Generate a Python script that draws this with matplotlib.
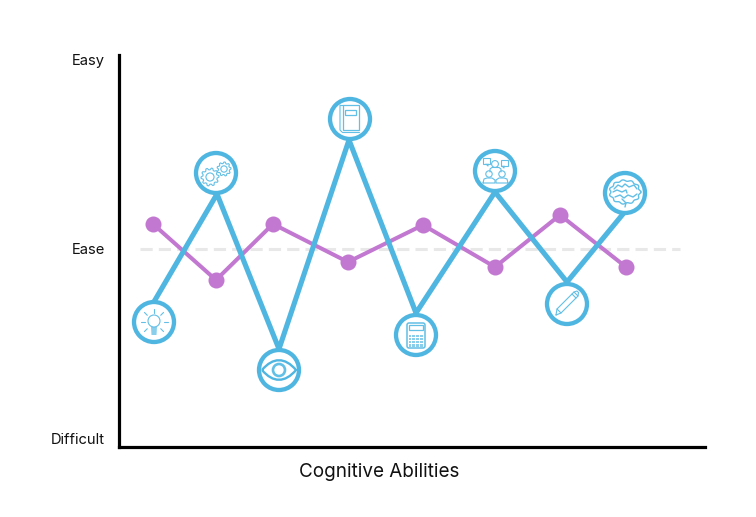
import numpy as np
import matplotlib
matplotlib.use("Agg")
import matplotlib.pyplot as plt
from matplotlib.patches import Circle, Rectangle, FancyBboxPatch, Polygon, PathPatch
from matplotlib.path import Path

plt.rcParams['font.family'] = ['Inter', 'DejaVu Sans']

# values (axis units = pixels from the axes corner)
blue_x = [36, 98, 160, 230, 297, 376, 448, 504]
blue_y = [147, 253, 98, 307, 134, 255, 165, 233]
icon_x = [35, 97, 160, 231, 297, 376, 448, 506]
icon_y = [125, 274, 77, 328, 112, 276, 143, 254]
icons = ['bulb', 'gears', 'eye', 'book', 'calc', 'people', 'pencil', 'brain']
purple_x = [34, 97, 154, 229, 304, 376, 441, 507]
purple_y = [223, 167, 223, 185, 222, 180, 232, 180]
ease_level = 198
ease_span = [21, 561]
y_ticks = [8, 198, 387]
y_labels = ['Difficult', 'Ease', 'Easy']

BLUE = '#4FB6E1'
ICON = '#62BFE6'
PURPLE = '#C277D0'

fig = plt.figure(figsize=(7.56, 5.17), dpi=100)
ax = fig.add_axes([119 / 756, 70 / 517, 586 / 756, 392 / 517])
ax.set_xlim(0, 586)
ax.set_ylim(0, 392)

for s in ['top', 'right']:
    ax.spines[s].set_visible(False)
for s in ['left', 'bottom']:
    ax.spines[s].set_linewidth(2.3)
ax.set_xticks([])
ax.set_yticks(y_ticks)
ax.set_yticklabels(y_labels, fontsize=10.6, color='#111111')
ax.tick_params(axis='y', length=0, pad=10)
ax.set_xlabel("Cognitive Abilities", fontsize=13.6, color='#111111')
ax.xaxis.set_label_coords(260 / 586, -0.063)
ax.xaxis.label.set_verticalalignment('center')

ax.plot(ease_span, [ease_level, ease_level], color='#E8E8E8', lw=2.2,
        dashes=(4, 2), zorder=1)
ax.plot(purple_x, purple_y, color=PURPLE, lw=2.9, zorder=2)
ax.scatter(purple_x, purple_y, s=133, color=PURPLE, linewidths=0, zorder=2)
ax.plot(blue_x, blue_y, color=BLUE, lw=3.7, zorder=3, solid_joinstyle='miter')


def line(cx, cy, xs, ys, lw=0.8):
    ax.plot(np.array(xs) + cx, np.array(ys) + cy, color=ICON, lw=lw, zorder=6,
            solid_capstyle='round')


def ring(cx, cy, r, lw=0.8):
    ax.add_patch(Circle((cx, cy), r, fc='none', ec=ICON, lw=lw, zorder=6))


def box(x, y, w, h, lw=0.8):
    ax.add_patch(Rectangle((x, y), w, h, fc='none', ec=ICON, lw=lw, zorder=6))


def gear(cx, cy, r, teeth):
    ang = np.linspace(0, 2 * np.pi, teeth * 4 + 1)
    rad = np.where(np.arange(len(ang)) % 4 < 2, r, r * 0.8)
    ax.add_patch(Polygon(np.c_[cx + rad * np.cos(ang), cy + rad * np.sin(ang)],
                         fc='none', ec=ICON, lw=0.8, zorder=6))
    ring(cx, cy, r * 0.45)


def draw_icon(kind, cx, cy):
    if kind == 'bulb':
        ring(cx, cy + 1, 6)
        ax.add_patch(Polygon([(cx - 3, cy - 5), (cx + 3, cy - 5), (cx + 2.5, cy - 13), (cx - 2.5, cy - 13)],
                             fc=ICON, ec='none', alpha=0.75, zorder=6))
        for a in [0, 45, 90, 135, 180, 225, 315]:
            c, s = np.cos(np.radians(a)), np.sin(np.radians(a))
            line(cx, cy, [9.5 * c, 13.5 * c], [9.5 * s, 13.5 * s])
    elif kind == 'gears':
        gear(cx - 6, cy - 4, 9, 10)
        gear(cx + 8, cy + 4, 7, 9)
    elif kind == 'eye':
        verts = [(-17, 0), (-6, 13), (6, 13), (17, 0), (6, -13), (-6, -13), (-17, 0)]
        codes = [Path.MOVETO, Path.CURVE4, Path.CURVE4, Path.CURVE4,
                 Path.CURVE4, Path.CURVE4, Path.CURVE4]
        ax.add_patch(PathPatch(Path(np.array(verts) + (cx, cy), codes), fc='none',
                               ec=BLUE, lw=1.7, zorder=6))
        ring(cx, cy, 6, lw=1.9)
    elif kind == 'book':
        box(cx - 7, cy - 11, 16, 25, lw=0.9)
        line(cx, cy, [-10, -10, -8], [14, -11, -13])
        line(cx, cy, [-10, -7], [14, 14])
        line(cx, cy, [-8, 9], [-13, -13])
        box(cx - 5, cy + 4, 11, 5, lw=0.9)
    elif kind == 'calc':
        ax.add_patch(FancyBboxPatch((cx - 9, cy - 13), 18, 25, boxstyle='round,pad=0,rounding_size=2',
                                    fc='none', ec=ICON, lw=1.1, zorder=6))
        box(cx - 7, cy + 5, 14, 5, lw=0.9)
        for i in range(4):
            for j in range(4):
                ax.add_patch(Rectangle((cx - 7.5 + i * 3.9, cy - 11.5 + j * 3.1), 2.9, 2.3,
                                       fc=ICON, ec='none', alpha=0.75, zorder=6))
    elif kind == 'people':
        ring(cx, cy + 7, 3.4)
        ring(cx - 6, cy - 3, 3.2)
        ring(cx + 7, cy - 3, 3.2)
        line(cx, cy, [-5, -5, -3, 4, 6, 6], [-1, 2, 3.5, 3.5, 2, -1])
        line(cx, cy, [-12, -11, -8, -3, 0, 0, -12], [-12, -8, -7, -7, -9, -12, -12])
        line(cx, cy, [13, 12, 9, 4, 1, 1, 13], [-12, -8, -7, -7, -9, -12, -12])
        box(cx - 12, cy + 7, 7, 6)
        line(cx, cy, [-9, -7, -7], [7, 5, 7])
        box(cx + 6, cy + 5, 7, 6)
        line(cx, cy, [7, 9, 9], [5, 3, 5])
    elif kind == 'pencil':
        line(cx, cy, [-11, -10, 7, 11, -6, -11], [-11, -5, 12, 8, -9, -11])
        line(cx, cy, [-10, -6], [-5, -9])
        line(cx, cy, [5, 9], [10, 6])
        line(cx, cy, [7, 10, 11.5, 11], [12, 13, 11.5, 8])
    elif kind == 'brain':
        ang = np.linspace(0, 2 * np.pi, 120)
        rad = 1 + 0.06 * np.cos(ang * 11)
        line(cx, cy, 15 * rad * np.cos(ang), 1 + 11.5 * rad * np.sin(ang), lw=1)
        line(cx, cy, [-11, -7, -3, 0, 4, 9, 12], [4, 8, 6, 9, 6, 8, 4], lw=1)
        line(cx, cy, [-12, -8, -3, 1, 2], [1, 3, 1, 3, 0], lw=1)
        line(cx, cy, [-10, -5, -1, 3, 8, 12], [-4, -2, -5, -2, -4, -1], lw=1)
        line(cx, cy, [-3, -1, 1, 0], [-6, -8, -10, -14], lw=1)


# white discs with a thick ring, then the small pictogram inside
for kind, x, y in zip(icons, icon_x, icon_y):
    ax.add_patch(Circle((x, y), 20, fc='white', ec=BLUE, lw=3.1, zorder=5))
    draw_icon(kind, x, y)

fig.savefig("out.png", dpi=100)
